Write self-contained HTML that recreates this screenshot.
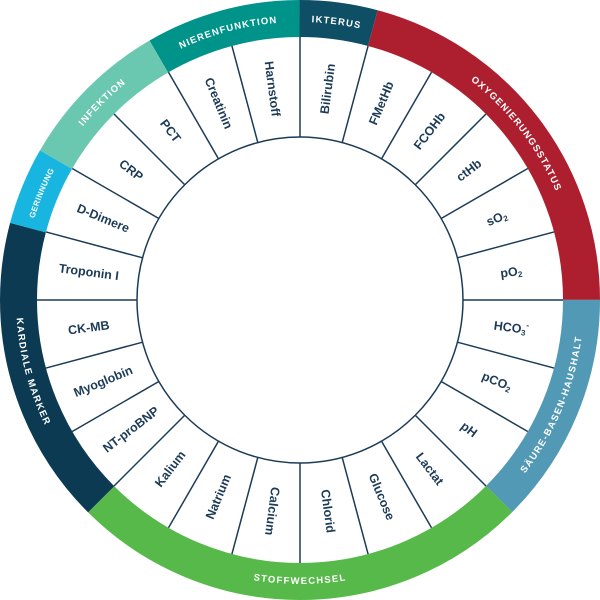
<!DOCTYPE html>
<html><head><meta charset="utf-8"><style>html,body{margin:0;padding:0;background:#fff}svg{display:block}</style></head>
<body>
<svg width="600" height="600" viewBox="0 0 600 600" xmlns="http://www.w3.org/2000/svg" font-family="Liberation Sans, sans-serif">
<g transform="rotate(-90 300 300)" fill="none" stroke-width="37">
<circle cx="300" cy="300" r="281.5" pathLength="360" stroke="#0e4f66" stroke-dasharray="15 345" stroke-dashoffset="0"/>
<circle cx="300" cy="300" r="281.5" pathLength="360" stroke="#ad1f2f" stroke-dasharray="75 285" stroke-dashoffset="-15"/>
<circle cx="300" cy="300" r="281.5" pathLength="360" stroke="#5299b5" stroke-dasharray="45 315" stroke-dashoffset="-90"/>
<circle cx="300" cy="300" r="281.5" pathLength="360" stroke="#57b94a" stroke-dasharray="90 270" stroke-dashoffset="-135"/>
<circle cx="300" cy="300" r="281.5" pathLength="360" stroke="#0c3a52" stroke-dasharray="60 300" stroke-dashoffset="-225"/>
<circle cx="300" cy="300" r="281.5" pathLength="360" stroke="#17b5e0" stroke-dasharray="15 345" stroke-dashoffset="-285"/>
<circle cx="300" cy="300" r="281.5" pathLength="360" stroke="#6bc8b0" stroke-dasharray="30 330" stroke-dashoffset="-300"/>
<circle cx="300" cy="300" r="281.5" pathLength="360" stroke="#00938a" stroke-dasharray="30 330" stroke-dashoffset="-330"/>
</g>
<defs>
<path id="pN" d="M159.5 56.65 A281 281 0 0 1 300 19"/>
<path id="pI" d="M300 19 A281 281 0 0 1 372.7 28.6"/>
<path id="pO" d="M372.7 28.6 A281 281 0 0 1 581 300"/>
<path id="pF" d="M56.65 159.5 A281 281 0 0 1 159.5 56.65"/>
<path id="pG" d="M28.6 227.3 A281 281 0 0 1 56.65 159.5"/>
<path id="pS" d="M498.7 498.7 A281 281 0 0 0 581 300"/>
<path id="pW" d="M101.3 498.7 A281 281 0 0 0 498.7 498.7"/>
<path id="pK" d="M28.6 227.3 A281 281 0 0 0 101.3 498.7"/>
</defs>
<g fill="#fff" font-size="9.5" font-weight="bold" letter-spacing="1.2" text-anchor="middle" dominant-baseline="central">
<text><textPath href="#pN" startOffset="50%">NIERENFUNKTION</textPath></text>
<text><textPath href="#pI" startOffset="50%">IKTERUS</textPath></text>
<text><textPath href="#pO" startOffset="50%">OXYGENIERUNGSSTATUS</textPath></text>
<text><textPath href="#pF" startOffset="50%">INFEKTION</textPath></text>
<text font-size="8" letter-spacing="0.5"><textPath href="#pG" startOffset="50%">GERINNUNG</textPath></text>
<text><textPath href="#pS" startOffset="50%">SÄURE-BASEN-HAUSHALT</textPath></text>
<text><textPath href="#pW" startOffset="50%">STOFFWECHSEL</textPath></text>
<text><textPath href="#pK" startOffset="50%">KARDIALE MARKER</textPath></text>
</g>
<circle cx="300" cy="300" r="163" fill="none" stroke="#1c3b57" stroke-width="1.5"/>
<g stroke="#1c3b57" stroke-width="1.5">
<line x1="463" y1="300" x2="563" y2="300" transform="rotate(-90 300 300)"/>
<line x1="463" y1="300" x2="563" y2="300" transform="rotate(-75 300 300)"/>
<line x1="463" y1="300" x2="563" y2="300" transform="rotate(-60 300 300)"/>
<line x1="463" y1="300" x2="563" y2="300" transform="rotate(-45 300 300)"/>
<line x1="463" y1="300" x2="563" y2="300" transform="rotate(-30 300 300)"/>
<line x1="463" y1="300" x2="563" y2="300" transform="rotate(-15 300 300)"/>
<line x1="463" y1="300" x2="563" y2="300" transform="rotate(0 300 300)"/>
<line x1="463" y1="300" x2="563" y2="300" transform="rotate(15 300 300)"/>
<line x1="463" y1="300" x2="563" y2="300" transform="rotate(30 300 300)"/>
<line x1="463" y1="300" x2="563" y2="300" transform="rotate(45 300 300)"/>
<line x1="463" y1="300" x2="563" y2="300" transform="rotate(60 300 300)"/>
<line x1="463" y1="300" x2="563" y2="300" transform="rotate(75 300 300)"/>
<line x1="463" y1="300" x2="563" y2="300" transform="rotate(90 300 300)"/>
<line x1="463" y1="300" x2="563" y2="300" transform="rotate(105 300 300)"/>
<line x1="463" y1="300" x2="563" y2="300" transform="rotate(120 300 300)"/>
<line x1="463" y1="300" x2="563" y2="300" transform="rotate(135 300 300)"/>
<line x1="463" y1="300" x2="563" y2="300" transform="rotate(150 300 300)"/>
<line x1="463" y1="300" x2="563" y2="300" transform="rotate(165 300 300)"/>
<line x1="463" y1="300" x2="563" y2="300" transform="rotate(180 300 300)"/>
<line x1="463" y1="300" x2="563" y2="300" transform="rotate(195 300 300)"/>
<line x1="463" y1="300" x2="563" y2="300" transform="rotate(210 300 300)"/>
<line x1="463" y1="300" x2="563" y2="300" transform="rotate(225 300 300)"/>
<line x1="463" y1="300" x2="563" y2="300" transform="rotate(240 300 300)"/>
<line x1="463" y1="300" x2="563" y2="300" transform="rotate(255 300 300)"/>
</g>
<g fill="#1c3b57" font-size="12.5" font-weight="bold" text-anchor="middle" dominant-baseline="central">
<text x="513" y="300" transform="rotate(-82.5 300 300)">Bilirubin</text>
<text x="513" y="300" transform="rotate(-67.5 300 300)">FMetHb</text>
<text x="513" y="300" transform="rotate(-52.5 300 300)">FCOHb</text>
<text x="513" y="300" transform="rotate(-37.5 300 300)">ctHb</text>
<text x="513" y="300" transform="rotate(-22.5 300 300)">sO<tspan font-size="8" dy="3">2</tspan></text>
<text x="513" y="300" transform="rotate(-7.5 300 300)">pO<tspan font-size="8" dy="3">2</tspan></text>
<text x="513" y="300" transform="rotate(7.5 300 300)">HCO<tspan font-size="8" dy="3">3</tspan><tspan font-size="8" dy="-8">-</tspan></text>
<text x="513" y="300" transform="rotate(22.5 300 300)">pCO<tspan font-size="8" dy="3">2</tspan></text>
<text x="513" y="300" transform="rotate(37.5 300 300)">pH</text>
<text x="513" y="300" transform="rotate(52.5 300 300)">Lactat</text>
<text x="513" y="300" transform="rotate(67.5 300 300)">Glucose</text>
<text x="513" y="300" transform="rotate(82.5 300 300)">Chlorid</text>
<text x="513" y="300" transform="rotate(97.5 300 300)">Calcium</text>
<text x="87" y="300" transform="rotate(-67.5 300 300)">Natrium</text>
<text x="87" y="300" transform="rotate(-52.5 300 300)">Kalium</text>
<text x="87" y="300" transform="rotate(-37.5 300 300)">NT-proBNP</text>
<text x="87" y="300" transform="rotate(-22.5 300 300)">Myoglobin</text>
<text x="87" y="300" transform="rotate(-7.5 300 300)">CK-MB</text>
<text x="87" y="300" transform="rotate(7.5 300 300)">Troponin I</text>
<text x="87" y="300" transform="rotate(22.5 300 300)">D-Dimere</text>
<text x="87" y="300" transform="rotate(37.5 300 300)">CRP</text>
<text x="87" y="300" transform="rotate(52.5 300 300)">PCT</text>
<text x="87" y="300" transform="rotate(67.5 300 300)">Creatinin</text>
<text x="87" y="300" transform="rotate(82.5 300 300)">Harnstoff</text>
</g>
</svg>
</body></html>
